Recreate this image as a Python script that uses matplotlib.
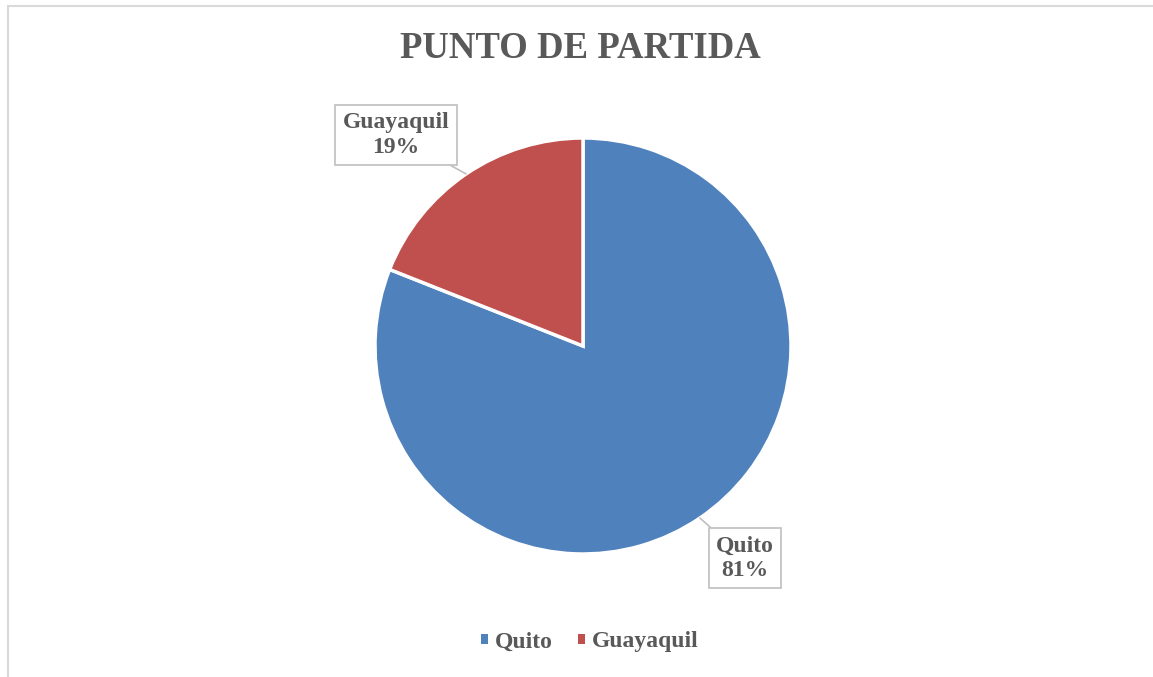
import matplotlib.pyplot as plt
import numpy as np
from matplotlib.patches import Rectangle

# datos
ciudades = ['Quito', 'Guayaquil']
porcentajes = [81, 19]
colores = ['#4F81BD', '#C0504D']

gris = '#595959'
W, H = 1153, 677

fig = plt.figure(figsize=(W / 100, H / 100), dpi=100)
ax = fig.add_axes([0, 0, 1, 1])

plt.rcParams['font.family'] = ['Liberation Serif', 'DejaVu Serif']

# borde del grafico
ax.add_patch(Rectangle((7.5, -10), W, H - 6 + 10, fill=False, edgecolor='#D9D9D9', linewidth=1.5))

cx, cy, r = 583, H - 346, 208
wedges, _ = ax.pie(porcentajes, colors=colores, startangle=90, counterclock=False,
                   center=(cx, cy), radius=r, frame=True,
                   wedgeprops=dict(edgecolor='white', linewidth=2.5))
ax.set_xlim(0, W)
ax.set_ylim(0, H)
ax.axis('off')

# etiquetas con cajas
pos_texto = [(745, H - 558), (396, H - 135)]
for w, nombre, p, (tx, ty) in zip(wedges, ciudades, porcentajes, pos_texto):
    ang = np.deg2rad((w.theta1 + w.theta2) / 2)
    px, py = cx + r * np.cos(ang), cy + r * np.sin(ang)
    ax.annotate(f'{nombre}\n{p}%', xy=(px, py), xytext=(tx, ty),
                ha='center', va='center', fontsize=17, fontweight='bold', color=gris,
                linespacing=1.2,
                bbox=dict(boxstyle='square,pad=0.32', facecolor='white', edgecolor='#BFBFBF', linewidth=1.2),
                arrowprops=dict(arrowstyle='-', color='#BFBFBF', linewidth=1.2, shrinkA=0, shrinkB=0))

fig.text(580 / W, 1 - 49 / H, 'PUNTO DE PARTIDA', ha='center', va='center',
         fontsize=26.5, fontweight='bold', color=gris)

leg = ax.legend(wedges, ciudades, loc='center', bbox_to_anchor=(590 / W, 1 - 642 / H),
                ncol=2, frameon=False, handlelength=0.3, handleheight=0.3,
                handletextpad=0.3, columnspacing=1.05,
                prop=dict(size=17, weight='bold'))
for t in leg.get_texts():
    t.set_color(gris)
for h in leg.legend_handles:
    h.set_edgecolor('none')

fig.savefig('out.png', dpi=100)
